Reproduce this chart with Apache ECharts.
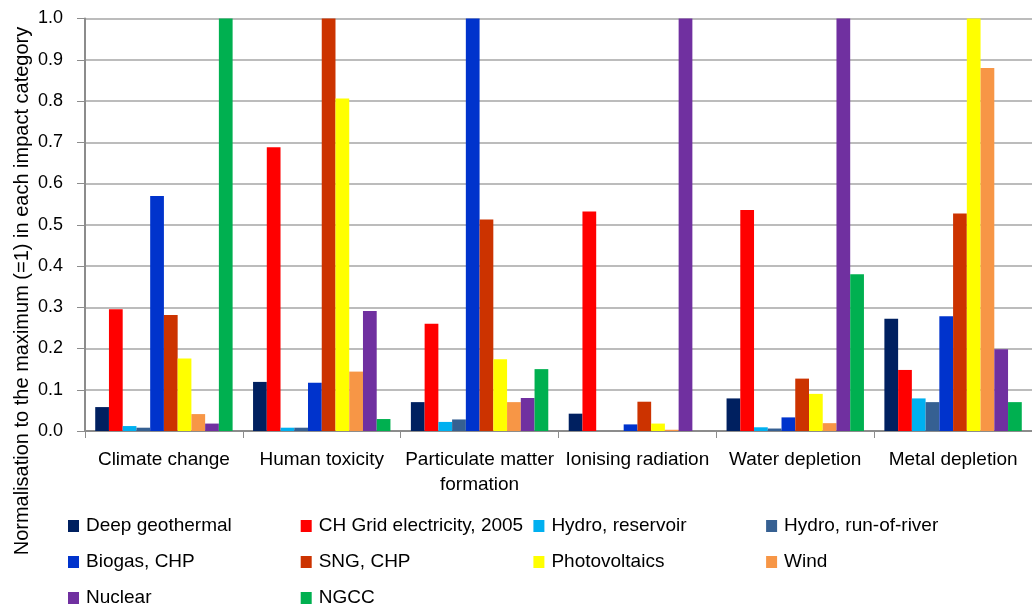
<!DOCTYPE html>
<html>
<head>
<meta charset="utf-8">
<script src="https://cdn.jsdelivr.net/npm/echarts@6/dist/echarts.min.js"></script>
<style>
html,body{margin:0;padding:0;background:#fff;}
#chart{width:1032px;height:608px;}
</style>
</head>
<body>
<div id="chart"></div>
<script>
const categories = ['Climate change', 'Human toxicity', 'Particulate matter\nformation', 'Ionising radiation', 'Water depletion', 'Metal depletion'];
const seriesNames = ['Deep geothermal', 'CH Grid electricity, 2005', 'Hydro, reservoir', 'Hydro, run-of-river', 'Biogas, CHP', 'SNG, CHP', 'Photovoltaics', 'Wind', 'Nuclear', 'NGCC'];
const seriesColors = ['#002060', '#FF0000', '#00B0F0', '#366092', '#0033CC', '#CC3300', '#FFFF00', '#F79646', '#7030A0', '#00B050'];
const deepGeothermal = [0.058, 0.119, 0.070, 0.042, 0.079, 0.272];
const chGrid = [0.295, 0.688, 0.260, 0.532, 0.536, 0.148];
const hydroReservoir = [0.012, 0.008, 0.022, 0.000, 0.009, 0.079];
const hydroRunOfRiver = [0.008, 0.008, 0.028, 0.000, 0.006, 0.070];
const biogasCHP = [0.570, 0.117, 1.000, 0.016, 0.033, 0.278];
const sngCHP = [0.281, 1.000, 0.513, 0.071, 0.127, 0.527];
const photovoltaics = [0.176, 0.806, 0.174, 0.018, 0.090, 1.000];
const wind = [0.041, 0.144, 0.070, 0.003, 0.019, 0.880];
const nuclear = [0.018, 0.291, 0.080, 1.000, 1.000, 0.198];
const ngcc = [1.000, 0.029, 0.150, 0.000, 0.380, 0.070];
const yTicks = ['0.0', '0.1', '0.2', '0.3', '0.4', '0.5', '0.6', '0.7', '0.8', '0.9', '1.0'];
const yTitle = 'Normalisation to the maximum (=1) in each impact category';

const seriesData = [deepGeothermal, chGrid, hydroReservoir, hydroRunOfRiver, biogasCHP, sngCHP, photovoltaics, wind, nuclear, ngcc];

const FONT = '"Liberation Sans", Arial, sans-serif';

const chart = echarts.init(document.getElementById('chart'), null, {renderer: 'canvas'});
chart.setOption({
  animation: false,
  backgroundColor: '#fff',
  textStyle: {fontFamily: FONT, color: '#000'},
  grid: {left: 85, top: 18.5, width: 949, height: 412.5, containLabel: false},
  legend: {
    left: 68, top: 508, width: 960, padding: 0,
    orient: 'horizontal',
    itemWidth: 11, itemHeight: 12, itemGap: 0,
    icon: 'rect',
    textStyle: {fontFamily: FONT, fontSize: 19, color: '#000', width: 214.7, lineHeight: 36, padding: [0, 0, 0, 2]},
    data: seriesNames
  },
  xAxis: {
    type: 'category',
    data: categories,
    axisLine: {lineStyle: {color: '#8C8C8C', width: 2}},
    axisTick: {show: true, length: 7, lineStyle: {color: '#8C8C8C', width: 1}},
    axisLabel: {fontFamily: FONT, fontSize: 19, color: '#000', margin: 16, lineHeight: 25, interval: 0}
  },
  yAxis: {
    type: 'value',
    min: 0, max: 1, interval: 0.1,
    axisLine: {show: true, lineStyle: {color: '#8C8C8C', width: 2}},
    axisTick: {show: true, length: 8, lineStyle: {color: '#8C8C8C', width: 1}},
    splitLine: {show: true, lineStyle: {color: '#A6A6A6', width: 1.5}},
    axisLabel: {fontFamily: FONT, fontSize: 18, color: '#000', margin: 22,
      formatter: function (v) { return yTicks[Math.round(v * 10)]; }}
  },
  graphic: [{
    type: 'text',
    x: 22, y: 291,
    rotation: Math.PI / 2,
    style: {text: yTitle, fontFamily: FONT, fontSize: 20, fill: '#000', textAlign: 'center', textVerticalAlign: 'middle'}
  }],
  series: seriesNames.map(function (name, i) {
    return {
      name: name,
      type: 'bar',
      data: seriesData[i],
      barWidth: 13.74,
      barGap: '0%',
      itemStyle: {color: seriesColors[i]},
      emphasis: {disabled: true}
    };
  })
});
</script>
</body>
</html>
